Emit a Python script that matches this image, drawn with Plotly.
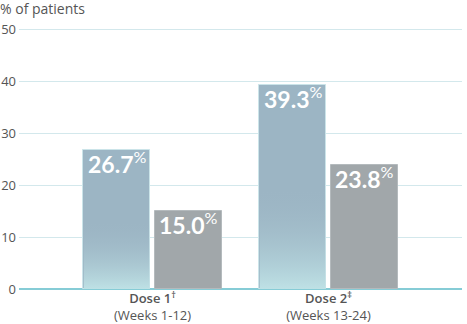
import plotly.graph_objects as go

# ---- data ----
categories = ["Dose 1", "Dose 2"]
cat_marks = ["†", "‡"]
cat_sub = ["(Weeks 1-12)", "(Weeks 13-24)"]
series_a = [26.7, 39.3]
series_b = [15.0, 23.8]
y_ticks = [0, 10, 20, 30, 40, 50]

# ---- layout constants ----
x_pos = list(range(len(categories)))
BAR_W = 0.38
OFF_A = -0.394
OFF_B = 0.014
GRAD_FRAC = 0.5

COL_A = "#9cb5c4"
COL_A_BOT = "rgba(190,225,229,1)"
COL_B = "#a1a7aa"
TXT = "#555555"

fig = go.Figure()

fig.add_trace(go.Bar(
    x=x_pos, y=series_a, width=BAR_W, offset=OFF_A,
    marker=dict(color=COL_A, line=dict(color="#cbe4e9", width=1)),
    showlegend=False, hoverinfo="skip",
))
fig.add_trace(go.Bar(
    x=x_pos, y=series_b, width=BAR_W, offset=OFF_B,
    marker=dict(color=COL_B, line=dict(color="#b4babd", width=1)),
    showlegend=False, hoverinfo="skip",
))

# gradient overlay on lower part of series A bars
for xc, v in zip(x_pos, series_a):
    x0 = xc + OFF_A + 0.003
    x1 = xc + OFF_A + BAR_W - 0.003
    ytop = v * GRAD_FRAC
    fig.add_trace(go.Scatter(
        x=[x0, x1, x1, x0, x0], y=[0, 0, ytop, ytop, 0],
        mode="lines", line=dict(width=0), fill="toself",
        fillgradient=dict(type="vertical",
                          colorscale=[[0, COL_A_BOT], [1, "rgba(156,181,196,0)"]]),
        showlegend=False, hoverinfo="skip",
    ))

# value labels inside bar tops
for off, vals in ((OFF_A, series_a), (OFF_B, series_b)):
    for xc, v in zip(x_pos, vals):
        fig.add_annotation(
            x=xc + off + BAR_W / 2, y=v, xref="x", yref="y",
            text=f"{v:.1f}<sup><span style='font-weight:normal'>%</span></sup>",
            showarrow=False, yanchor="top", xanchor="center", yshift=5,
            font=dict(family="Lato", size=23, color="white", weight="bold"),
        )

ticktext = [f"<span style='font-weight:600'>{c}<sup>{m}</sup></span><br>{s}"
            for c, m, s in zip(categories, cat_marks, cat_sub)]

fig.update_layout(
    width=467, height=324,
    margin=dict(l=19, r=5, t=28, b=35),
    plot_bgcolor="white", paper_bgcolor="white",
    font=dict(family="Open Sans", size=13, color=TXT),
    title=dict(text="% of patients", x=0, xref="container", xanchor="left",
               y=1 - 9 / 324, yref="container", yanchor="middle",
               font=dict(family="Open Sans", size=14, color=TXT)),
    xaxis=dict(range=[-0.759, 1.759], tickvals=x_pos, ticktext=ticktext,
               showgrid=False, zeroline=False, showline=False, ticks="",
               tickfont=dict(size=13, color=TXT), fixedrange=True,
               automargin=False),
    yaxis=dict(range=[0, 50.2], tickvals=y_ticks, showgrid=True,
               gridcolor="#d3e8ec", gridwidth=1,
               zeroline=True, zerolinecolor="#86ccd6", zerolinewidth=2,
               showline=False, ticks="", ticklabelstandoff=2,
               tickfont=dict(size=13, color=TXT), automargin=False),
    bargap=0,
)

fig.write_html("out.html")
